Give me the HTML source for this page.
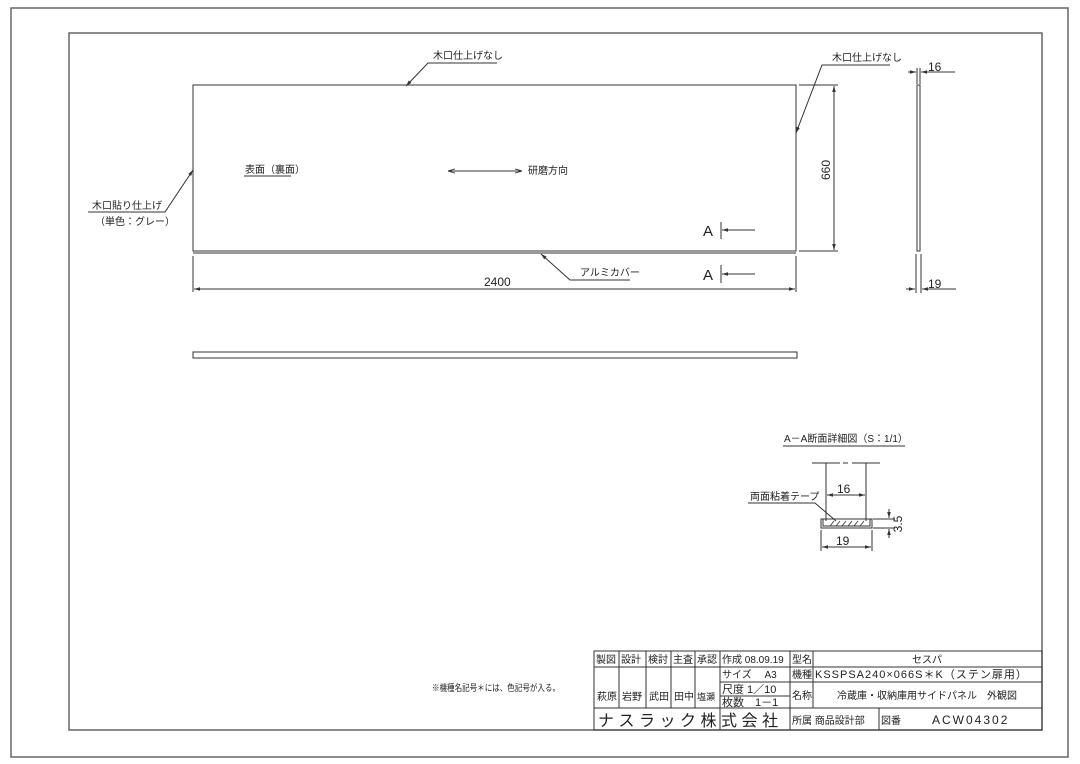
<!DOCTYPE html>
<html><head><meta charset="utf-8"><style>
html,body{margin:0;padding:0;background:#fff;}
svg{display:block;}
text{font-family:"Liberation Sans","Noto Sans CJK JP",sans-serif;fill:#222;}
</style></head><body>
<svg width="1080" height="764" viewBox="0 0 1080 764" xmlns="http://www.w3.org/2000/svg">
<defs>
<marker id="ar" viewBox="0 0 10 10" refX="10" refY="5" markerWidth="7" markerHeight="7" orient="auto-start-reverse"><path d="M0,2 L10,5 L0,8" fill="none" stroke="#333" stroke-width="1.2"/></marker>
<marker id="af" viewBox="0 0 10 10" refX="10" refY="5" markerWidth="6" markerHeight="6" orient="auto-start-reverse"><path d="M0,2 L10,5 L0,8 z" fill="#333"/></marker>
</defs>
<g fill="none" stroke="#666" stroke-width="1.5">
<rect x="11" y="8" width="1057" height="749"/>
<rect x="69" y="33" width="973" height="697"/>
</g>
<g fill="none" stroke="#333" stroke-width="1">
<rect x="193" y="85" width="603" height="166"/>
<line x1="193" y1="253" x2="796" y2="253"/>
<line x1="193" y1="256" x2="193" y2="292"/>
<line x1="796" y1="256" x2="796" y2="292"/>
<line x1="194" y1="289" x2="795" y2="289" marker-start="url(#af)" marker-end="url(#af)"/>
<line x1="799" y1="85" x2="838" y2="85"/>
<line x1="799" y1="251" x2="838" y2="251"/>
<line x1="834" y1="86" x2="834" y2="250" marker-start="url(#af)" marker-end="url(#af)"/>
<polyline points="406,86 428,63 497,63" marker-start="url(#af)"/>
<polyline points="796,133 822,65 890,65" marker-start="url(#af)"/>
<polyline points="193,170 165,212 88,212" marker-start="url(#af)"/>
<polyline points="541,254 570,280 630,280" marker-start="url(#af)"/>
<line x1="448" y1="171" x2="522" y2="171" marker-start="url(#ar)" marker-end="url(#ar)"/>
<line x1="721" y1="222" x2="721" y2="239"/>
<line x1="722" y1="230" x2="755" y2="230" marker-start="url(#af)"/>
<line x1="721" y1="265" x2="721" y2="283"/>
<line x1="722" y1="274" x2="755" y2="274" marker-start="url(#af)"/>
<rect x="917" y="85" width="3" height="166"/>
<line x1="917" y1="68" x2="917" y2="84"/><line x1="920" y1="68" x2="920" y2="84"/>
<line x1="908" y1="72" x2="916" y2="72" marker-end="url(#af)"/>
<line x1="930" y1="72" x2="921" y2="72" marker-end="url(#af)"/>
<line x1="921" y1="72" x2="955" y2="72"/>
<line x1="916" y1="254" x2="916" y2="293"/><line x1="921" y1="254" x2="921" y2="293"/>
<line x1="906" y1="289" x2="915" y2="289" marker-end="url(#af)"/>
<line x1="931" y1="289" x2="922" y2="289" marker-end="url(#af)"/>
<line x1="922" y1="289" x2="956" y2="289"/>
<rect x="193" y="352" width="604" height="6"/>
<line x1="783" y1="446" x2="905" y2="446"/>
<line x1="812" y1="463" x2="840" y2="463"/><line x1="843" y1="463" x2="848" y2="463"/><line x1="852" y1="463" x2="880" y2="463"/>
<line x1="826" y1="463" x2="826" y2="521"/>
<line x1="866" y1="463" x2="866" y2="521"/>
<line x1="827" y1="495" x2="865" y2="495" marker-start="url(#af)" marker-end="url(#af)"/>
<rect x="821" y="519" width="51" height="9"/>
<path d="M823,519 V526 H870 V519" />
<g stroke-width="0.8"><line x1="830" y1="526" x2="834" y2="521"/><line x1="836" y1="526" x2="840" y2="521"/><line x1="842" y1="526" x2="846" y2="521"/><line x1="848" y1="526" x2="852" y2="521"/><line x1="854" y1="526" x2="858" y2="521"/><line x1="860" y1="526" x2="864" y2="521"/></g>
<line x1="821" y1="530" x2="821" y2="551"/><line x1="872" y1="530" x2="872" y2="551"/>
<line x1="822" y1="547" x2="871" y2="547" marker-start="url(#af)" marker-end="url(#af)"/>
<line x1="873" y1="519" x2="895" y2="519"/><line x1="873" y1="528" x2="895" y2="528"/>
<line x1="889" y1="509" x2="889" y2="518" marker-end="url(#af)"/>
<line x1="889" y1="538" x2="889" y2="529" marker-end="url(#af)"/>
<polyline points="748,503 815,503 836,521"/>
<line x1="244" y1="176" x2="291" y2="176"/>
<line x1="88" y1="212" x2="160" y2="212"/>
</g>
<g font-size="10">
<text x="433" y="59">木口仕上げなし</text>
<text x="832" y="61">木口仕上げなし</text>
<text x="92" y="209">木口貼り仕上げ</text>
<text x="95" y="225">（単色：グレー）</text>
<text x="245" y="173">表面（裏面）</text>
<text x="528" y="174">研磨方向</text>
<text x="580" y="276">アルミカバー</text>
<text x="484" y="286" font-size="12">2400</text>
<text x="928" y="71" font-size="12">16</text>
<text x="928" y="288" font-size="12">19</text>
<text x="784" y="442">A－A断面詳細図（S：1/1）</text>
<text x="750" y="500">両面粘着テープ</text>
<text x="837" y="493" font-size="12">16</text>
<text x="836" y="545" font-size="12">19</text>
<text x="432" y="691" font-size="9" textLength="128" lengthAdjust="spacingAndGlyphs">※機種名記号＊には、色記号が入る。</text>
</g>
<text x="703" y="236" font-size="15">A</text>
<text x="703" y="280" font-size="15">A</text>
<text transform="translate(830,170) rotate(-90)" text-anchor="middle" font-size="12">660</text>
<text transform="translate(902,524) rotate(-90)" text-anchor="middle" font-size="12">3.5</text>
<g fill="none" stroke="#333" stroke-width="1">
<rect x="594" y="651" width="448" height="79"/>
<line x1="594" y1="667" x2="720" y2="667"/>
<line x1="594" y1="708" x2="1042" y2="708"/>
<line x1="720" y1="667" x2="1042" y2="667"/>
<line x1="720" y1="682" x2="1042" y2="682"/>
<line x1="720" y1="696" x2="790" y2="696"/>
<line x1="619" y1="651" x2="619" y2="708"/>
<line x1="646" y1="651" x2="646" y2="708"/>
<line x1="671" y1="651" x2="671" y2="708"/>
<line x1="695" y1="651" x2="695" y2="708"/>
<line x1="720" y1="651" x2="720" y2="730"/>
<line x1="790" y1="651" x2="790" y2="730"/>
<line x1="813" y1="651" x2="813" y2="708"/>
<line x1="879" y1="708" x2="879" y2="730"/>
</g>
<g font-size="10">
<text x="596" y="663">製図</text><text x="621" y="663">設計</text><text x="648" y="663">検討</text><text x="673" y="663">主査</text><text x="697" y="663">承認</text>
<text x="722" y="663">作成 08.09.19</text>
<text x="792" y="663">型名</text>
<text x="927" y="663" text-anchor="middle">セスパ</text>
<text x="722" y="678">サイズ　 A3</text>
<text x="792" y="678">機種</text>
<text x="815" y="678" font-size="11" letter-spacing="1">KSSPSA240×066S＊K（ステン扉用）</text>
<text x="722" y="693" font-size="11">尺度 1／10</text>
<text x="722" y="706" font-size="11">枚数　1－1</text>
<text x="792" y="699">名称</text>
<text x="927" y="699" text-anchor="middle">冷蔵庫・収納庫用サイドパネル　外観図</text>
<text x="597" y="700">萩原</text><text x="622" y="700">岩野</text><text x="649" y="700">武田</text><text x="674" y="700">田中</text><text x="697" y="700" font-size="9">塩瀬</text>
<text x="598" y="726" font-size="16" textLength="180" lengthAdjust="spacing">ナスラック株式会社</text>
<text x="792" y="724">所属 商品設計部</text>
<text x="881" y="724">図番</text>
<text x="932" y="724" font-size="12" letter-spacing="2">ACW04302</text>
</g>
</svg>
</body></html>
